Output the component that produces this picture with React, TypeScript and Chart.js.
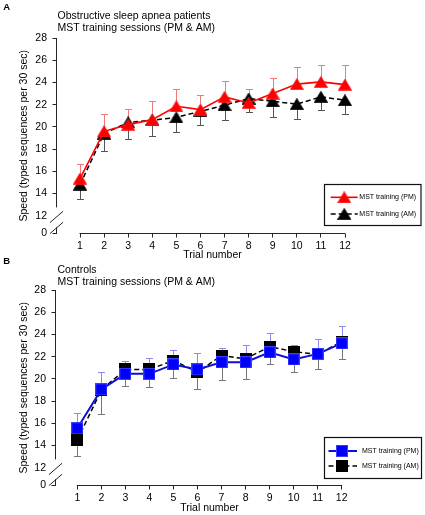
import React, { useEffect, useRef } from 'react';
import { Chart, registerables } from 'chart.js';
Chart.register(...registerables);

// ---------- data ----------
const trials = [1, 2, 3, 4, 5, 6, 7, 8, 9, 10, 11, 12];
const yTickValues = [12, 14, 16, 18, 20, 22, 24, 26, 28];
const yBreakLabel = '0';
const legendLabels = ['MST training (PM)', 'MST training (AM)'];
const xAxisTitle = 'Trial number';
const yAxisTitle = 'Speed (typed sequences per 30 sec)';

// Panel A: obstructive sleep apnea patients
const osaTitle = ['Obstructive sleep apnea patients', 'MST training sessions (PM & AM)'];
const osaPM = [15.35, 19.6, 20.2, 20.65, 21.85, 21.55, 22.7, 22.15, 23.0, 23.85, 24.05, 23.8];
const osaPMErr = [1.35, 1.6, 1.4, 1.65, 1.55, 1.3, 1.45, 1.25, 1.4, 1.55, 1.55, 1.75];
const osaAM = [14.8, 19.4, 20.4, 20.6, 20.85, 21.4, 21.95, 22.55, 22.3, 22.05, 22.7, 22.4];
const osaAMErr = [1.25, 1.55, 1.5, 1.45, 1.35, 1.2, 1.3, 1.25, 1.4, 1.3, 1.2, 1.2];

// Panel B: controls
const ctlTitle = ['Controls', 'MST training sessions (PM & AM)'];
const ctlPM = [15.55, 19.05, 20.45, 20.45, 21.3, 20.85, 21.5, 21.5, 22.4, 21.75, 22.25, 23.2];
const ctlPMErr = [1.4, 1.55, 1.15, 1.4, 1.3, 1.45, 1.3, 1.55, 1.7, 1.3, 1.3, 1.6];
const ctlAM = [14.5, 19.0, 20.85, 20.85, 21.65, 20.6, 22.1, 21.8, 22.9, 22.45, 22.2, 23.35];
const ctlAMErr = [1.4, 2.15, 1.45, 1.55, 1.55, 1.5, 2.2, 1.85, 1.55, 1.85, 1.35, 1.55];

// ---------- style ----------
const FONT = '"Liberation Sans", Arial, Helvetica, sans-serif';
const AXIS = '#262626';
const Y_MIN = 10.4; // where the "0" label sits under the axis break
const Y_MAX = 28;
const AXIS_TOP_END = 12.75;
const W = 425;
const H = 265;

function makeMarker(shape: string, fill: string, edge: string) {
  const c = document.createElement('canvas');
  const g = c.getContext('2d')!;
  if (shape === 'triangle') {
    c.width = 14; c.height = 12;
    g.beginPath();
    g.moveTo(7, 0.2); g.lineTo(13.9, 11.8); g.lineTo(0.1, 11.8); g.closePath();
    g.fillStyle = fill; g.fill();
    g.strokeStyle = edge; g.lineWidth = 0.6; g.stroke();
  } else {
    c.width = 12; c.height = 12;
    g.fillStyle = fill; g.fillRect(0, 0, 12, 12);
    g.strokeStyle = edge; g.lineWidth = 1; g.strokeRect(0.5, 0.5, 11, 11);
  }
  return c;
}

type Cfg = {
  canvasTop: number; areaLeft: number; areaRight: number; firstTickX: number;
  areaTop: number; areaBottom: number;
  letter: string; letterBase: number; title: string[]; titleBase: number[];
  pm: number[]; pmErr: number[]; am: number[]; amErr: number[];
  shape: string; pmFill: string; pmEdge: string; lineColor: string; lineWidth: number;
  pmErrColor: string; amErrColor: string;
  legend: { x: number; y: number; w: number; h: number; rows: number[]; lineFrom: number; lineTo: number; markerX: number; textX: number };
  xTitleBase: number;
};

const panelA: Cfg = {
  canvasTop: 0, areaLeft: 56.5, areaRight: 345, firstTickX: 80, areaTop: 38, areaBottom: 233.5,
  letter: 'A', letterBase: 10, title: osaTitle, titleBase: [18.8, 30.8],
  pm: osaPM, pmErr: osaPMErr, am: osaAM, amErr: osaAMErr,
  shape: 'triangle', pmFill: '#ff0000', pmEdge: '#ff3030', lineColor: '#ff0000', lineWidth: 1.6,
  pmErrColor: '#f07a7a', amErrColor: '#555555',
  legend: { x: 324.5, y: 184.5, w: 96.5, h: 41, rows: [12.8, 29.5], lineFrom: 6.2, lineTo: 33.2, markerX: 19.8, textX: 34.8 },
  xTitleBase: 258.3,
};

const panelB: Cfg = {
  canvasTop: 252, areaLeft: 55.5, areaRight: 341.7, firstTickX: 77.3, areaTop: 38, areaBottom: 233.5,
  letter: 'B', letterBase: 12, title: ctlTitle, titleBase: [21, 33],
  pm: ctlPM, pmErr: ctlPMErr, am: ctlAM, amErr: ctlAMErr,
  shape: 'square', pmFill: '#0000ff', pmEdge: '#3c3cff', lineColor: '#1010d0', lineWidth: 2,
  pmErrColor: '#8a8af0', amErrColor: '#777777',
  legend: { x: 324.5, y: 185.5, w: 97, h: 41, rows: [13.5, 28.5], lineFrom: 4, lineTo: 32.5, markerX: 17.5, textX: 37.5 },
  xTitleBase: 258.5,
};

function Panel({ cfg }: { cfg: Cfg }) {
  const ref = useRef<HTMLCanvasElement>(null);
  useEffect(() => {
    const canvas = ref.current!;
    const last = trials[trials.length - 1];
    const pxPerUnit = (cfg.areaRight - cfg.firstTickX) / (last - trials[0]);
    const xMin = trials[0] - (cfg.firstTickX - cfg.areaLeft) / pxPerUnit;
    const pmMarker = makeMarker(cfg.shape, cfg.pmFill, cfg.pmEdge);
    const amMarker = makeMarker(cfg.shape, '#000000', '#000000');

    const decor = {
      id: 'decor',
      beforeDatasetsDraw(chart: any) {
        const { ctx, chartArea, scales } = chart;
        const x = scales.x, y = scales.y;
        ctx.save();
        // axes (broken y axis)
        ctx.strokeStyle = AXIS; ctx.lineWidth = 1;
        const ax = chartArea.left;
        const y12 = y.getPixelForValue(yTickValues[0]);
        ctx.beginPath();
        ctx.moveTo(ax, y.getPixelForValue(Y_MAX));
        ctx.lineTo(ax, y.getPixelForValue(AXIS_TOP_END));
        ctx.moveTo(ax, y12 + 11.5);
        ctx.lineTo(ax, y.getPixelForValue(Y_MIN));
        for (const off of [1.2, 12.2]) {
          ctx.moveTo(ax - 6.6, y12 + off + 5.7);
          ctx.lineTo(ax + 6.6, y12 + off - 5.7);
        }
        const by = chartArea.bottom;
        ctx.moveTo(x.getPixelForValue(trials[0]) - 0.5, by);
        ctx.lineTo(x.getPixelForValue(last) + 0.5, by);
        ctx.stroke();
        // error bars
        const bars = [
          { v: cfg.am, e: cfg.amErr, dir: -1, color: cfg.amErrColor },
          { v: cfg.pm, e: cfg.pmErr, dir: 1, color: cfg.pmErrColor },
        ];
        for (const b of bars) {
          ctx.strokeStyle = b.color; ctx.lineWidth = 1;
          ctx.beginPath();
          b.v.forEach((val, i) => {
            const px = Math.round(x.getPixelForValue(trials[i])) + 0.5;
            const y0 = y.getPixelForValue(val);
            const y1 = Math.round(y.getPixelForValue(val + b.dir * b.e[i])) + 0.5;
            ctx.moveTo(px, y0); ctx.lineTo(px, y1);
            ctx.moveTo(px - 3.5, y1); ctx.lineTo(px + 3.5, y1);
          });
          ctx.stroke();
        }
        ctx.restore();
      },
      afterDraw(chart: any) {
        const { ctx, scales } = chart;
        const x = scales.x;
        ctx.save();
        // panel letter and titles
        ctx.fillStyle = '#000';
        ctx.textBaseline = 'alphabetic';
        ctx.textAlign = 'left';
        ctx.font = `bold 9.5px ${FONT}`;
        ctx.fillText(cfg.letter, 3.3, cfg.letterBase);
        ctx.font = `10.5px ${FONT}`;
        cfg.title.forEach((t, i) => ctx.fillText(t, 57.5, cfg.titleBase[i]));
        // x axis title centred under the trial range
        ctx.textAlign = 'center';
        ctx.fillText(xAxisTitle, (x.getPixelForValue(trials[0]) + x.getPixelForValue(last)) / 2, cfg.xTitleBase);
        // legend
        const L = cfg.legend;
        ctx.fillStyle = '#fff';
        ctx.fillRect(L.x, L.y, L.w, L.h);
        ctx.strokeStyle = '#111'; ctx.lineWidth = 1.2;
        ctx.strokeRect(L.x, L.y, L.w, L.h);
        chart.data.datasets.forEach((ds: any, i: number) => {
          const ry = L.y + L.rows[i];
          ctx.save();
          ctx.strokeStyle = ds.borderColor; ctx.lineWidth = ds.borderWidth;
          ctx.setLineDash(ds.borderDash || []);
          ctx.beginPath(); ctx.moveTo(L.x + L.lineFrom, ry); ctx.lineTo(L.x + L.lineTo, ry); ctx.stroke();
          ctx.restore();
          const m = i === 0 ? pmMarker : amMarker;
          ctx.drawImage(m, L.x + L.markerX - m.width / 2, ry - m.height / 2);
          ctx.fillStyle = '#000';
          ctx.font = `7px ${FONT}`;
          ctx.textAlign = 'left';
          ctx.textBaseline = 'middle';
          ctx.fillText(ds.label, L.x + L.textX, ry);
        });
        ctx.restore();
      },
    };

    const tickFont = { family: FONT, size: 10.5 };
    const chart = new Chart(canvas, {
      type: 'line',
      data: {
        datasets: [
          {
            label: legendLabels[0],
            data: trials.map((t, i) => ({ x: t, y: cfg.pm[i] })),
            borderColor: cfg.lineColor, borderWidth: cfg.lineWidth,
            pointStyle: pmMarker as any, pointRadius: 6, pointHoverRadius: 6,
            fill: false, tension: 0, clip: false,
          },
          {
            label: legendLabels[1],
            data: trials.map((t, i) => ({ x: t, y: cfg.am[i] })),
            borderColor: '#000000', borderWidth: 1.5, borderDash: [5, 3],
            pointStyle: amMarker as any, pointRadius: 6, pointHoverRadius: 6,
            fill: false, tension: 0, clip: false,
          },
        ],
      },
      options: {
        responsive: false,
        animation: false,
        events: [],
        layout: { padding: { left: 0, top: cfg.areaTop, right: W - cfg.areaRight, bottom: 0 } },
        plugins: { legend: { display: false }, tooltip: { enabled: false }, title: { display: false } },
        scales: {
          x: {
            type: 'linear', min: xMin, max: last,
            afterBuildTicks: (s: any) => { s.ticks = trials.map((v) => ({ value: v })); },
            afterFit: (s: any) => { s.height = H - cfg.areaBottom; },
            border: { display: false },
            grid: { display: true, drawOnChartArea: false, drawTicks: true, tickLength: 4, color: AXIS, lineWidth: 1 },
            ticks: { color: '#000', font: tickFont, padding: 2, maxRotation: 0, autoSkip: false, callback: (v: any) => String(v) },
          },
          y: {
            type: 'linear', min: Y_MIN, max: Y_MAX,
            afterBuildTicks: (s: any) => { s.ticks = [Y_MIN, ...yTickValues].map((v) => ({ value: v })); },
            afterFit: (s: any) => { s.width = cfg.areaLeft; },
            border: { display: false },
            grid: {
              display: true, drawOnChartArea: false, drawTicks: true, tickLength: 4, lineWidth: 1,
              color: (c: any) => (c.tick && c.tick.value === yTickValues[0] ? 'rgba(0,0,0,0)' : AXIS),
            },
            ticks: {
              color: '#000', font: tickFont, padding: 5.5, autoSkip: false,
              callback: (v: any) => (v === Y_MIN ? yBreakLabel : String(v)),
            },
            title: { display: true, text: yAxisTitle, color: '#000', font: { family: FONT, size: 10.5 }, padding: { top: 17.5, bottom: 0 } },
          },
        },
      },
      plugins: [decor],
    });
    return () => chart.destroy();
  }, [cfg]);
  return (
    <canvas
      ref={ref}
      width={W}
      height={H}
      style={{ position: 'absolute', left: 0, top: cfg.canvasTop, display: 'block' }}
    />
  );
}

export default function App() {
  return (
    <div style={{ position: 'absolute', left: 0, top: 0, width: W, height: 515, background: '#fff', overflow: 'hidden' }}>
      <Panel cfg={panelA} />
      <Panel cfg={panelB} />
    </div>
  );
}
